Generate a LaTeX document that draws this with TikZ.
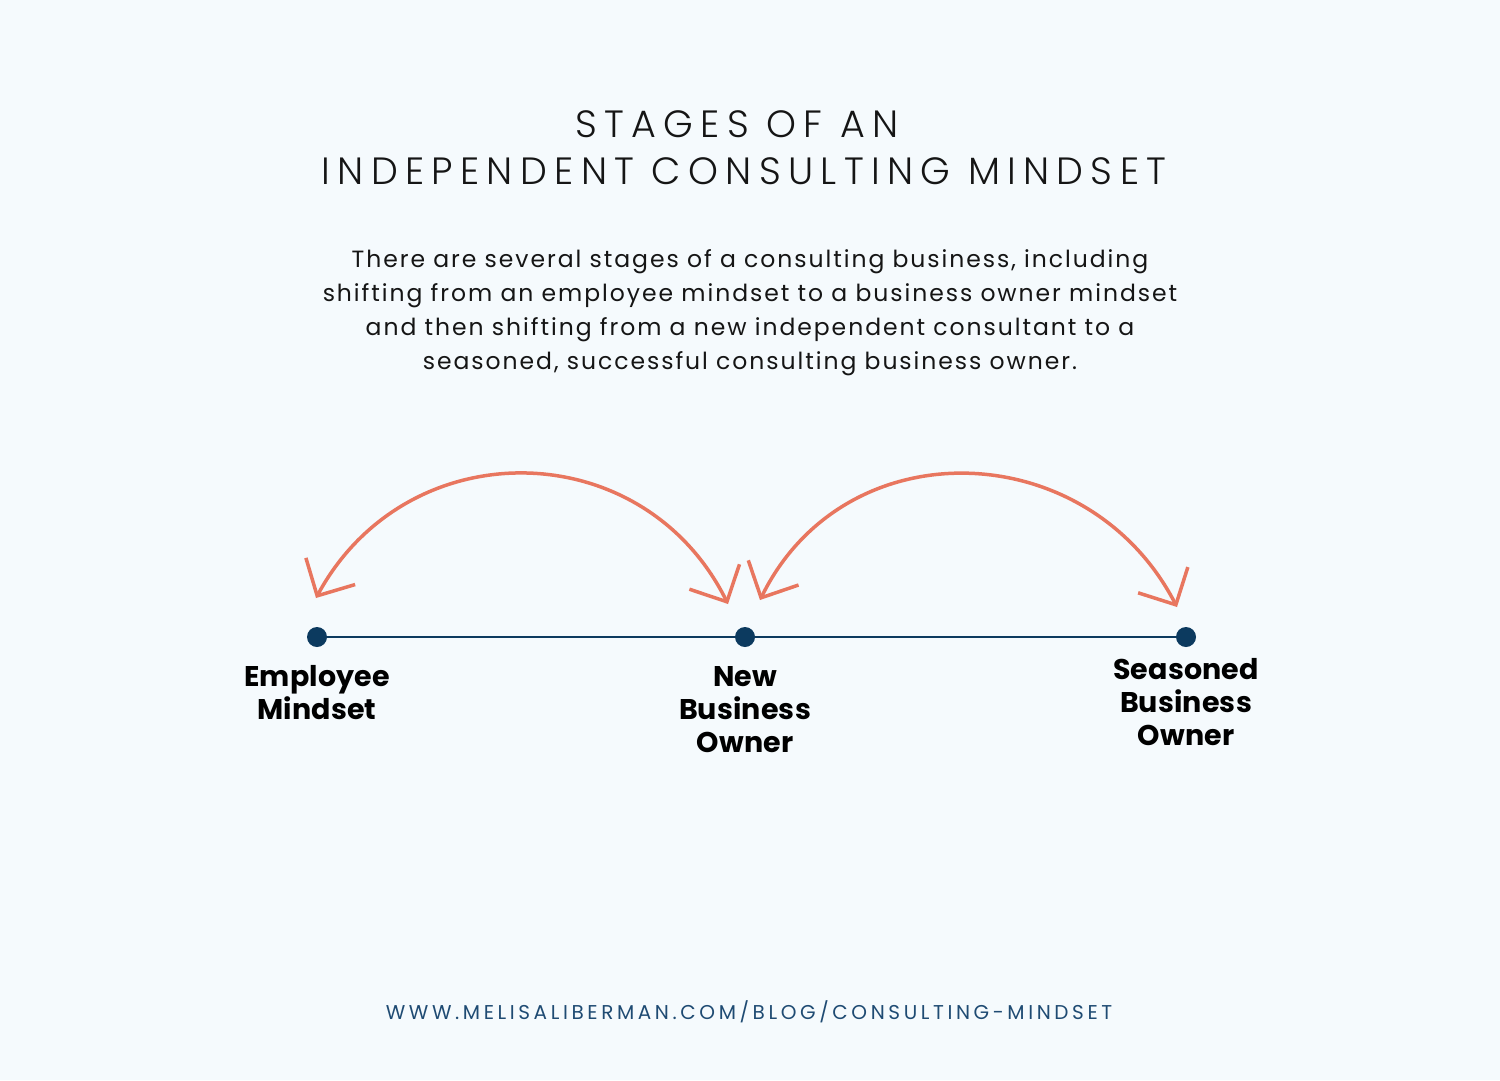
\documentclass[tikz,border=0pt]{standalone}
\usepackage{fontspec}
\usetikzlibrary{arrows.meta}
\setmainfont{Poppins}
\IfFontExistsTF{Poppins Light}
  {\newfontfamily\titlefont{Poppins Light}[LetterSpace=19.3]}
  {\newfontfamily\titlefont{Poppins}[LetterSpace=19.3]}
\newfontfamily\urlfont{Poppins}[LetterSpace=18]
\newfontfamily\bodyfont{Poppins}[LetterSpace=8.3]
\newfontfamily\labelfont{Poppins Bold}[LetterSpace=0.5]
\definecolor{bgcol}{HTML}{F5FAFD}
\definecolor{navy}{HTML}{0C3A5F}
\definecolor{coral}{HTML}{E8765F}
\definecolor{ink}{HTML}{151515}
\definecolor{urlcol}{HTML}{1F4B73}
\tikzset{
  titletext/.style={anchor=base, inner sep=0pt, text=ink, font=\titlefont\fontsize{38}{47}\selectfont},
  bodytext/.style={anchor=base, align=center, inner sep=0pt, text=ink, font=\bodyfont\fontsize{23.5}{34}\selectfont},
  stagelabel/.style={anchor=base, align=center, inner sep=0pt, text=black, font=\labelfont\fontsize{28.5}{33}\selectfont},
  urltext/.style={anchor=base, inner sep=0pt, text=urlcol, font=\urlfont\fontsize{20}{24}\selectfont},
  dot/.style={circle, fill=navy, inner sep=0pt, minimum size=20pt},
  timeline/.style={draw=navy, line width=2pt},
  swing/.style={draw=coral, line width=3.5pt,
    {Straight Barb[length=28pt,width=56pt]}-{Straight Barb[length=28pt,width=56pt]}}
}
\begin{document}
\begin{tikzpicture}[x=1pt,y=-1pt]
\fill[bgcol] (0,0) rectangle (1500,1080);
\useasboundingbox (0,0) rectangle (1500,1080);

\node[titletext] (title1) at (737,137) {STAGES OF AN};
\node[titletext] (title2) at (744,184) {INDEPENDENT CONSULTING MINDSET};

\node[bodytext] (body) at (750,369) {There are several stages of a consulting business, including\\
shifting from an employee mindset to a business owner mindset\\
and then shifting from a new independent consultant to a\\
seasoned, successful consulting business owner.};

\node[dot] (d1) at (317,637) {};
\node[dot] (d2) at (745,637) {};
\node[dot] (d3) at (1186,637) {};
\draw[timeline] (d1) -- (d2);
\draw[timeline] (d2) -- (d3);

\coordinate (a1s) at (316,598);
\coordinate (a1e) at (728,604);
\coordinate (a2s) at (760,600);
\coordinate (a2e) at (1177,607);
\draw[swing] (a1s) .. controls (407,430) and (643,433) .. (a1e);
\draw[swing] (a2s) .. controls (845,427) and (1088,435) .. (a2e);

\node[stagelabel] (l1) at (317,719) {Employee\\Mindset};
\node[stagelabel] (l2) at (745,752) {New\\Business\\Owner};
\node[stagelabel] (l3) at (1186,745) {Seasoned\\Business\\Owner};

\node[urltext] (url) at (749,1019) {WWW.MELISALIBERMAN.COM/BLOG/CONSULTING-MINDSET};
\end{tikzpicture}
\end{document}
